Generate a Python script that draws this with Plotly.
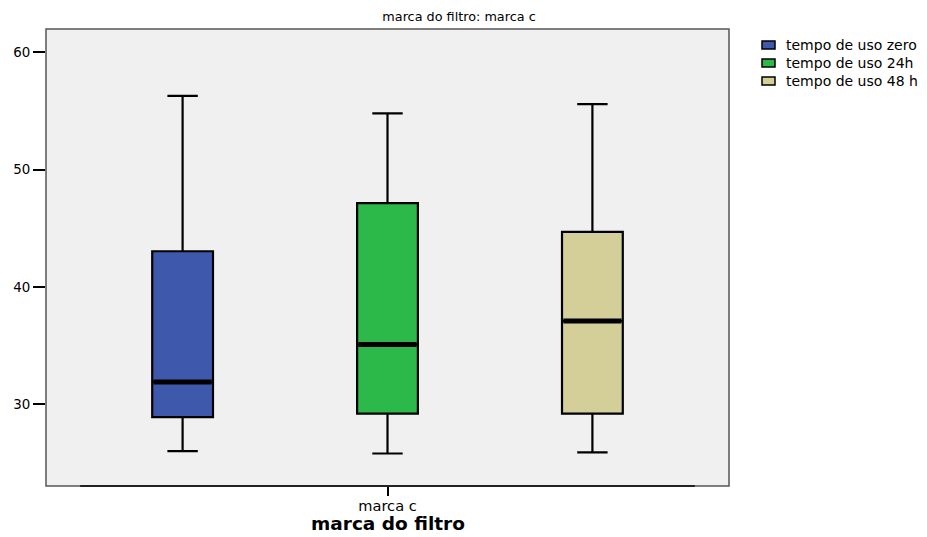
import plotly.graph_objects as go

series_names = ["tempo de uso zero", "tempo de uso 24h", "tempo de uso 48 h"]
category = "marca c"
lower_whisker = [26.0, 25.8, 25.9]
q1_vals = [28.9, 29.2, 29.2]
median_vals = [31.9, 35.1, 37.1]
q3_vals = [43.05, 47.15, 44.7]
upper_whisker = [56.3, 54.8, 55.6]
y_ticks = [30, 40, 50, 60]
colors = ["#3E58AC", "#2DB84A", "#D4CF98"]
x_title = "marca do filtro"

positions = [-0.3, 0.0, 0.3]
box_w = 0.089
FONT = "DejaVu Sans, Liberation Sans, Arial, sans-serif"

# figure sized to fit the viewport with the page's 8px body margin
FW, FH = 919, 529
# plot area in figure px
PL, PR, PT, PB = 38, 721, 21, 478
PW, PH = PR - PL, PB - PT

fig = go.Figure()
for i, name in enumerate(series_names):
    fig.add_trace(go.Box(
        name=name,
        x=[positions[i]],
        q1=[q1_vals[i]], median=[median_vals[i]], q3=[q3_vals[i]],
        lowerfence=[lower_whisker[i]], upperfence=[upper_whisker[i]],
        width=box_w, whiskerwidth=0.5,
        fillcolor=colors[i],
        line=dict(color="black", width=2.2),
        boxpoints=False, hoverinfo="skip", showlegend=False,
    ))
for i in range(len(series_names)):
    fig.add_trace(go.Scatter(
        x=[positions[i] - box_w / 2 + 0.002, positions[i] + box_w / 2 - 0.002],
        y=[median_vals[i], median_vals[i]],
        mode="lines", line=dict(color="black", width=5),
        showlegend=False, hoverinfo="skip",
    ))


def px_x(x):
    return (x - PL) / PW


def px_y(y):
    return (PB - y) / PH


# manual legend
legend_rows = [37, 55, 73]
for i, name in enumerate(series_names):
    yc = legend_rows[i]
    fig.add_shape(type="rect", xref="paper", yref="paper",
                  x0=px_x(754), x1=px_x(767), y0=px_y(yc + 4), y1=px_y(yc - 4),
                  fillcolor=colors[i], line=dict(color="black", width=1.5))
    fig.add_annotation(xref="paper", yref="paper", x=px_x(776), y=px_y(yc),
                       xanchor="left", yanchor="middle", showarrow=False,
                       text=name, font=dict(size=14.0, family=FONT, color="black"))

# x-axis title
fig.add_annotation(xref="paper", yref="paper", x=0.5, y=px_y(515),
                   xanchor="center", yanchor="middle", showarrow=False,
                   text="<b>" + x_title + "</b>",
                   font=dict(size=18.5, family=FONT, color="black"))

fig.update_layout(
    width=FW, height=FH,
    margin=dict(l=PL, r=FW - PR, t=PT, b=FH - PB, autoexpand=False),
    paper_bgcolor="white", plot_bgcolor="#F0F0F0",
    font=dict(family=FONT, color="black", size=13),
    title=dict(text="marca do filtro: marca c", x=451 / FW, xanchor="center",
               y=1 - 9 / FH, yanchor="middle", font=dict(size=12.8)),
    showlegend=False,
    xaxis=dict(range=[-0.5, 0.5], tickvals=[0], ticktext=[category],
               showgrid=False, zeroline=False, ticks="outside", ticklen=9,
               tickwidth=1.5, tickcolor="black", tickfont=dict(size=14.6),
               ticklabelstandoff=-3, automargin=False, showline=False),
    yaxis=dict(range=[23.03, 62.0], tickvals=y_ticks,
               showgrid=False, zeroline=False, ticks="outside", ticklen=12,
               tickwidth=1.5, tickcolor="black", tickfont=dict(size=13.4),
               automargin=False, showline=False),
)
# plot border
fig.add_shape(type="rect", xref="paper", yref="paper", x0=0, y0=0, x1=1, y1=1,
              line=dict(color="#555555", width=1.5), layer="above")
fig.add_shape(type="line", xref="paper", yref="paper", x0=0.05, x1=0.95, y0=0, y1=0,
              line=dict(color="#222222", width=2), layer="above")

fig.write_html("out.html")
